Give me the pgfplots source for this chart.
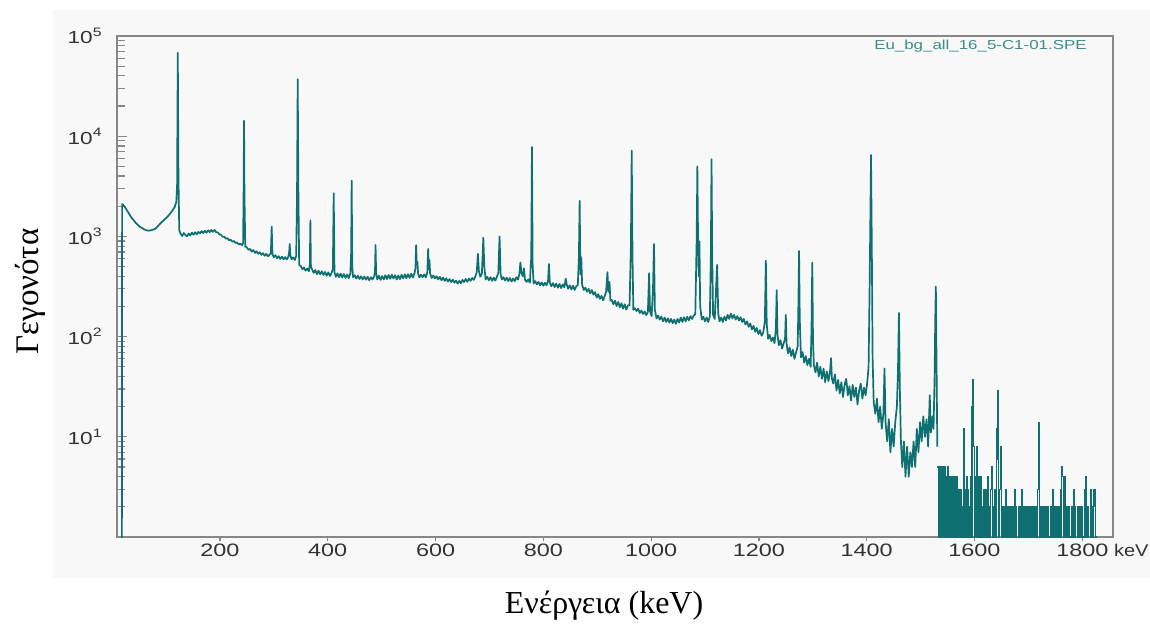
\documentclass[border=0pt]{standalone}
\usepackage{fontspec}
\setmainfont{Liberation Serif}
\newfontfamily\ticksf[FakeStretch=1.3]{Liberation Sans}
\newfontfamily\kevsf[FakeStretch=1.18]{Liberation Sans}
\usepackage{pgfplots}
\pgfplotsset{compat=1.18}
\definecolor{spec}{RGB}{14,112,112}
\definecolor{axgray}{RGB}{135,135,135}
\definecolor{labgray}{RGB}{50,50,50}
\definecolor{panel}{RGB}{248,248,248}
\definecolor{titlecol}{RGB}{60,140,140}
\begin{document}
\begin{tikzpicture}[x=1pt,y=1pt]
\path (0,0) rectangle (575,312);
\fill[panel] (26.5,23) rectangle (575,307);
\begin{axis}[
  name=ax,
  at={(58.5pt,43.5pt)}, anchor=south west,
  scale only axis, width=498pt, height=250.5pt,
  ymode=log, xmin=9, xmax=1857, ymin=1, ymax=100000,
  axis background/.style={fill=panel},
  axis line style={axgray, line width=0.7pt},
  every tick/.style={axgray, line width=0.6pt},
  xtick pos=bottom, ytick pos=left,
  xtick=\empty,
  extra x ticks={200,400,600,800,1000,1200,1400,1600,1800},
  extra x tick labels={200,400,600,800,1000,1200,1400,1600,1800},
  extra x tick style={major tick length=2pt, tick align=outside,
     tick label style={font=\ticksf\fontsize{9}{10}\selectfont, text=labgray, anchor=north, inner sep=0pt, yshift=-1.5pt}},
  ytick={10,100,1000,10000,100000},
  yticklabels={{10\textsuperscript{1}},{10\textsuperscript{2}},{10\textsuperscript{3}},{10\textsuperscript{4}},{10\textsuperscript{5}}},
  minor ytick={2,3,4,5,6,7,8,9,20,30,40,50,60,70,80,90,200,300,400,500,600,700,800,900,2000,3000,4000,5000,6000,7000,8000,9000,20000,30000,40000,50000,60000,70000,80000,90000},
  ytick align=inside,
  major tick length=5pt, minor tick length=4pt,
  yticklabel style={font=\ticksf\fontsize{8.7}{10}\selectfont, text=labgray, anchor=east, inner sep=0pt, xshift=-7pt},
  xlabel={Ενέργεια (keV)},
  xlabel style={at={(axis description cs:0.489,-0.136)}, anchor=center, font=\fontsize{16}{19}\selectfont},
  ylabel={Γεγονότα},
  ylabel style={at={(axis description cs:-0.087,0.49)}, anchor=center, font=\fontsize{16.5}{19}\selectfont},
  clip=true,
]
\addplot[spec, line width=0.85pt, line join=round] coordinates {
(18,0.3)(18.5,2100)(20,2080)(24,1950)(28,1800)(32,1660)(36,1530)(40,1450)(44,1360)(48,1300)(52,1240)(56,1210)(60,1170)(64,1150)(68,1140)(72,1150)(76,1170)(80,1190)(84,1250)(88,1320)(92,1390)(96,1460)(100,1520)(104,1600)(108,1700)(112,1820)(116,1960)(119,2200)(120.5,3200)(121.8,68000)(123,4000)(124.5,1150)(127,1060)(130,1010)(133,1080)(136,1030)(139,1000)(142,1070)(145,1020)(148,1090)(151,1040)(154,1100)(157,1050)(160,1110)(163,1070)(166,1130)(169,1080)(172,1140)(175,1090)(178,1150)(181,1100)(184,1160)(187,1110)(190,1160)(193,1100)(196,1095)(199,1050)(202,1040)(205,990)(208,995)(211,950)(214,960)(217,915)(220,925)(223,885)(226,900)(229,860)(232,870)(235,830)(238,845)(241,815)(243,860)(244,3200)(244.7,14300)(245.5,2600)(247,790)(250,775)(253,735)(256,750)(259,705)(262,730)(265,685)(268,710)(271,670)(274,695)(277,655)(280,680)(283,640)(286,670)(289,632)(292,655)(294.5,680)(296,1250)(297.5,660)(300,620)(303,650)(306,605)(309,635)(312,595)(315,628)(318,590)(321,622)(324,588)(327,630)(328.5,700)(329.5,840)(330.5,650)(333,592)(336,618)(339,582)(341.5,640)(343,2500)(344.3,37000)(345.5,3000)
(347,520)(350,505)(353,470)(356,490)(359,455)(362,478)(365,450)(366.8,520)(367.8,1450)(368.8,500)(371,468)(374,432)(377,462)(380,420)(383,455)(386,418)(389,448)(392,412)(395,442)(398,405)(401,438)(404,402)(407,432)(409.5,470)(411.1,2700)(412.5,440)(415,395)(418,428)(421,392)(424,425)(427,388)(430,422)(433,385)(436,418)(439,382)(442,430)(443.5,700)(444.4,3600)(445.5,500)(447,392)(450,410)(453,380)(456,405)(459,376)(462,400)(465,372)(468,398)(471,370)(474,395)(477,365)(480,392)(483,372)(486,398)(487.7,450)(488.7,820)(489.8,430)(492,372)(495,405)(498,368)(501,402)(504,372)(507,410)(510,375)(513,412)(516,378)(519,415)(522,380)(525,410)(528,372)(531,408)(534,375)(537,415)(540,380)(543,418)(546,382)(549,420)(552,385)(555,425)(558,388)(561,430)(562.8,480)(564,820)(565.2,520)(566.4,560)(567.6,430)(570,390)(573,415)(576,392)(579,418)(582,390)(584.8,440)(586.3,750)(587.5,470)(588.8,580)(590,425)(593,385)(596,408)(599,380)(602,400)(605,372)(608,395)(611,365)(614,388)(617,360)(620,382)(623,355)(626,375)(629,350)(632,370)(635,345)(638,362)(641,338)(644,360)(647,340)(650,368)(653,350)(656,376)(659,352)(662,380)(665,360)(668,385)(671,368)(674,400)(676.5,440)(678.6,670)(680.5,450)(683,395)(686,425)(688.7,970)(690.5,500)(693,372)(696,395)(699,365)(702,392)(705,360)(708,388)(711,362)(714,398)(716.5,430)(718.8,1000)(720.8,420)(723,372)(726,392)(729,362)(732,388)(735,358)(738,385)(741,355)(744,380)(747,358)(750,392)(753,370)(755.5,420)(757.5,550)(759.5,430)(762,400)(764,480)(766,370)(769,352)(772,372)(775,345)(777.6,620)(778.9,7800)(780.2,520)(782,338)(785,358)(788,332)(791,352)(794,325)(797,348)(800,322)(803,345)(806,325)(808.8,360)(810.4,530)(812,345)(815,318)(818,342)(821,312)(824,338)(827,308)(830,335)(833,305)(836,332)(839,310)(841.5,380)(843.5,330)(846,300)(849,325)(852,295)(855,322)(858,292)(861,318)(864,325)(866,620)(867.4,2270)(868.8,420)(870.4,620)(872,330)(875,292)(878,308)(881,280)(884,300)(887,270)(890,292)(893,262)(896,278)(899,245)(902,265)(905,238)(908,255)(911,230)(914,255)(916.5,280)(919,440)(920.8,280)(922.8,350)(924.5,228)(927,232)(930,210)(933,228)(936,202)(939,222)(942,196)(945,215)(948,190)(951,210)(954,186)(957,205)(960,205)(962.5,800)(964,7160)(965.5,620)(967,185)(970,192)(973,180)(976,190)(979,172)(982,182)(985,168)(988,178)(991,164)(994,176)(996.3,430)(998,178)(1001,160)(1003.5,300)(1005.3,840)(1007,185)(1010,152)(1013,162)(1016,148)(1019,158)(1022,142)(1025,155)(1028,140)(1031,152)(1034,138)(1037,150)(1040,136)(1043,148)(1046,134)(1049,150)(1052,138)(1055,155)(1058,140)(1061,156)(1064,142)(1067,158)(1070,145)(1073,160)(1076,150)(1079,162)(1082,168)(1084.5,900)(1085.8,5000)(1087.2,820)(1088.5,400)(1089.7,890)(1091,200)(1094,148)(1097,158)(1100,142)(1103,155)(1106,140)(1109,160)(1110.8,620)(1112.1,5900)(1113.4,600)(1115,165)(1118,150)(1120.5,300)(1122.5,520)(1124.5,170)(1127,142)(1130,155)(1133,140)(1136,158)(1139,145)(1142,165)(1145,150)(1148,170)(1151,152)(1154,165)(1157,148)(1160,160)(1163,145)(1166,156)(1169,140)(1172,150)(1175,132)(1178,142)(1181,125)(1184,135)(1187,118)(1190,128)(1193,112)(1196,122)(1199,106)(1202,116)(1205,102)(1208,110)(1211,140)(1212.9,572)(1214.5,135)(1217,95)(1220,104)(1223,90)(1226,98)(1229,86)(1231.5,120)(1233,290)(1234.5,105)(1237,82)(1240,92)(1243,76)(1246,86)(1248.5,95)(1249.9,165)(1251.3,85)(1254,68)(1257,78)(1260,64)(1263,74)(1266,60)(1269,70)(1272,80)(1273.2,200)(1274.5,716)(1275.8,150)(1278,62)(1281,70)(1284,55)(1287,64)(1290,52)(1293,60)(1296,50)(1297.6,120)(1299,545)(1300.4,90)(1302,52)(1305,44)(1308,55)(1311,40)(1314,50)(1317,38)(1320,48)(1323,35)(1326,45)(1329,36)(1332,45)(1333.8,61)(1335.5,38)(1338,34)(1341,42)(1344,29)(1347,37)(1350,27)(1353,35)(1356,25)(1359,33)(1362,38)(1365,26)(1368,32)(1371,23)(1374,33)(1377,25)(1380,31)(1383,21)(1386,29)(1389,34)(1392,24)(1395,31)(1398,26)(1401,35)(1403.5,50)(1405.2,250)(1406.6,1200)(1408,6500)(1409.4,900)(1411,60)(1413,22)(1416,17)(1419,24)(1422,14)(1425,20)(1428,12)(1431,17)(1433,48)(1435,14)(1438,9)(1441,15)(1444,7)(1447,12)(1450,8)(1453,14)(1456,20)(1458,45)(1459.8,172)(1461.5,30)(1463.5,9)(1466,5)(1469,9)(1472,4)(1475,8)(1478,4)(1481,7)(1484,5)(1487,9)(1490,5)(1493,12)(1496,7)(1499,14)(1502,9)(1505,16)(1508,10)(1511,15)(1514,8)(1517,26)(1519,11)(1522,16)(1524,12)(1526,40)(1527.2,150)(1528.3,315)(1529.5,60)(1531,8)
};
\addplot[spec, line width=0.6pt, const plot mark left] coordinates {
(1531,5)(1532.5,1)(1534,5)(1535.5,0.3)(1537,5)(1538.5,1)(1540,4)(1541.5,5)(1543,1)(1544.5,5)(1546,1)(1547.5,4)(1549,0.3)(1550.5,5)(1552,1)(1553.5,4)(1555,1)(1556.5,4)(1558,0.3)(1559.5,4)(1561,1)(1562.5,3)(1564,4)(1565.5,0.3)(1567,4)(1568.5,1)(1570,3)(1571.5,0.3)(1573,2)(1574.5,3)(1576,1)(1577.5,2)(1579,12)(1580.5,1)(1582,3)(1583.5,0.3)(1585,4)(1586.5,1)(1588,3)(1589.5,2)(1591,0.3)(1592.5,4)(1594,1)(1595.5,20)(1597,37)(1598.5,8)(1600,1)(1601.5,4)(1603,1)(1604.5,8)(1606,0.3)(1607.5,4)(1609,1)(1610.5,4)(1612,0.3)(1613.5,2)(1615,1)(1616.5,3)(1618,0.3)(1619.5,2)(1621,3)(1622.5,1)(1624,4)(1625.5,0.3)(1627,2)(1628.5,1)(1630,3)(1631.5,5)(1633,1)(1634.5,2)(1636,0.3)(1637.5,3)(1639,1)(1640.5,12)(1642,29)(1643.5,6)(1645,1)(1646.5,3)(1648,8)(1649.5,0.3)(1651,2)(1652.5,1)(1654,2)(1655.5,0.3)(1657,3)(1658.5,1)(1660,2)(1661.5,0.3)(1663,2)(1664.5,1)(1666,0.3)(1667.5,2)(1669,1)(1670.5,2)(1672,0.3)(1673.5,3)(1675,1)(1676.5,2)(1678,0.3)(1679.5,0.3)(1681,2)(1682.5,1)(1684,2)(1685.5,0.3)(1687,3)(1688.5,1)(1690,2)(1691.5,1)(1693,2)(1694.5,1)(1696,2)(1697.5,1)(1699,2)(1700.5,1)(1702,2)(1703.5,1)(1705,2)(1706.5,1)(1708,2)(1709.5,1)(1711,2)(1712.5,1)(1714,2)(1715.5,1)(1717,3)(1718.5,14)(1720,2)(1721.5,1)(1723,2)(1724.5,0.3)(1726,2)(1727.5,1)(1729,0.3)(1730.5,2)(1732,1)(1733.5,2)(1735,0.3)(1736.5,2)(1738,1)(1739.5,0.3)(1741,2)(1742.5,1)(1744,3)(1745.5,0.3)(1747,2)(1748.5,1)(1750,2)(1751.5,0.3)(1753,2)(1754.5,1)(1756,2)(1757.5,0.3)(1759,3)(1760.5,1)(1762,5)(1763.5,4)(1765,1)(1766.5,4)(1768,2)(1769.5,0.3)(1771,2)(1772.5,1)(1774,0.3)(1775.5,2)(1777,1)(1778.5,0.3)(1780,2)(1781.5,0.3)(1783,3)(1784.5,1)(1786,2)(1787.5,0.3)(1789,0.3)(1790.5,2)(1792,0.3)(1793.5,1)(1795,2)(1796.5,0.3)(1798,0.3)(1799.5,2)(1801,1)(1802.5,0.3)(1804,3)(1805.5,1)(1807,4)(1808.5,1)(1810,2)(1811.5,0.3)(1813,0.3)(1814.5,3)(1816,1)(1817.5,2)(1819,0.3)(1820.5,3)(1822,2)(1823.5,3)(1825,1)(1826.5,0.3)(1828,0.3)
};
\end{axis}
\node[anchor=east, inner sep=0pt, font=\ticksf\fontsize{6.5}{8}\selectfont, text=titlecol] at ([xshift=-13pt, yshift=-5pt]ax.north east) {Eu\_bg\_all\_16\_5-C1-01.SPE};
\node[anchor=north west, inner sep=0pt, font=\kevsf\fontsize{8.5}{10}\selectfont, text=labgray] at ([xshift=0.3pt, yshift=-3.5pt]ax.south east) {keV};
\end{tikzpicture}
\end{document}
